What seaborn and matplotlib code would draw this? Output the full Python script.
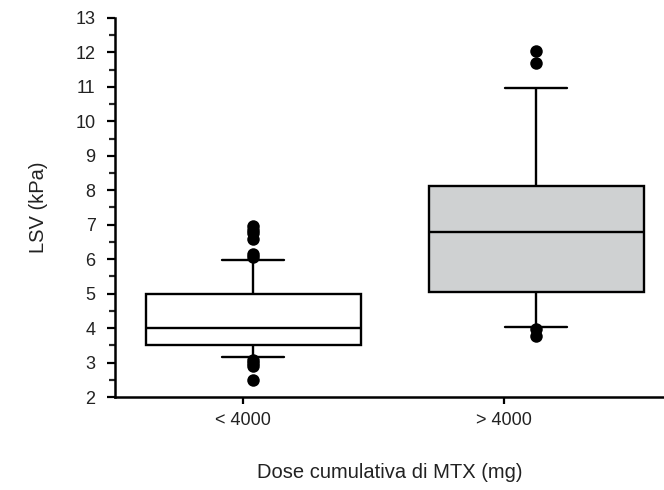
import pandas as pd
import matplotlib.pyplot as plt
import seaborn as sns

# Groups and five-number summaries
groups = ['< 4000', '> 4000']
low_whisker = [3.15, 4.04]
q1 = [3.5, 5.05]
median = [4.0, 6.78]
q3 = [5.0, 8.12]
high_whisker = [5.97, 10.97]

# Outliers shown as dots
outlier_group = ['< 4000'] * 10 + ['> 4000'] * 4
outlier_value = [2.5, 2.9, 3.0, 3.07, 6.05, 6.15, 6.6, 6.75, 6.85, 6.95,
                 3.78, 3.98, 11.68, 12.05]

box_colors = {'< 4000': 'white', '> 4000': '#cfd1d2'}

# A 5-value sample per group gives exactly these quartiles with whis=(0, 100)
rows = []
for i, g in enumerate(groups):
    for v in [low_whisker[i], q1[i], median[i], q3[i], high_whisker[i]]:
        rows.append({'dose': g, 'lsv': v})
df = pd.DataFrame(rows)
df_out = pd.DataFrame({'dose': outlier_group, 'lsv': outlier_value})

sns.set_style('ticks')
plt.rcParams['font.family'] = ['Liberation Sans', 'DejaVu Sans']

fig = plt.figure(figsize=(6.64, 4.9), dpi=100)
ax = fig.add_axes([115 / 664, 93 / 490, 549 / 664, 379 / 490])

sns.boxplot(data=df, x='dose', y='lsv', hue='dose', order=groups, hue_order=groups,
            palette=box_colors, legend=False, whis=(0, 100), showfliers=False,
            width=0.76, linecolor='black', linewidth=1.7, capwidths=0.22, ax=ax)
sns.stripplot(data=df_out, x='dose', y='lsv', order=groups, jitter=False,
              color='black', size=9, ax=ax)

ax.set_xlim(-0.488, 1.452)
ax.set_ylim(2, 13)
ax.set_yticks(range(2, 14))
ax.set_yticks([v + 0.5 for v in range(2, 13)], minor=True)
ax.set_xticks([-0.035, 0.887], groups)
ax.tick_params(axis='both', labelsize=13, colors='black', labelcolor='#222222', width=1.6)
ax.tick_params(axis='y', which='major', length=6, pad=8)
ax.tick_params(axis='y', which='minor', length=4, width=1.6)
ax.tick_params(axis='x', length=5, pad=6)

for side in ['top', 'right']:
    ax.spines[side].set_visible(False)
for side in ['left', 'bottom']:
    ax.spines[side].set_linewidth(1.8)
    ax.spines[side].set_color('black')

ax.set_ylabel('LSV (kPa)', fontsize=14.5, color='#222222', labelpad=20)
ax.set_xlabel('Dose cumulativa di MTX (mg)', fontsize=14.5, color='#222222', labelpad=24)

plt.savefig('out.png', dpi=100)
